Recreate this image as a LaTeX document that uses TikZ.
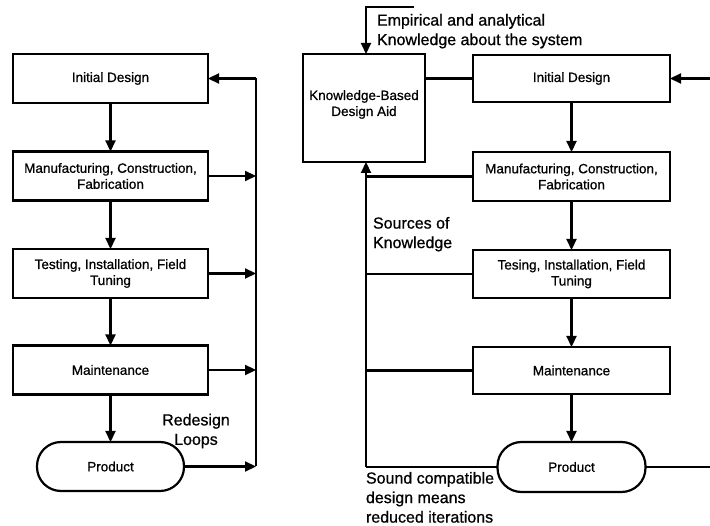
\documentclass[tikz,border=0pt]{standalone}
\usepackage{fontspec}
\setmainfont[FakeBold=0.8]{Liberation Sans}
\usetikzlibrary{arrows.meta}
\begin{document}
\begin{tikzpicture}[x=1pt,y=-1pt,
  every node/.style={inner sep=0pt,outer sep=0pt},
  boxtext/.style={font=\fontsize{13.5}{16}\selectfont},
  stepbox/.style={draw,line width=2.2pt,boxtext,align=center,minimum width=195pt,minimum height=49pt},
  prodbox/.style={draw,line width=2.2pt,boxtext,align=center,minimum width=147pt,minimum height=49pt,rounded corners=24pt},
  note/.style={font=\fontsize{16}{19.5}\selectfont},
  ln/.style={line width=2.2pt},
  arr/.style={line width=2.2pt,-{Triangle[length=11pt,width=10pt]}}]
\useasboundingbox (0,0) rectangle (710,526);
% left chain
\node[stepbox] (ID1) at (110.5,78.5) {Initial Design};
\node[stepbox] (MF1) at (110.5,176) {Manufacturing, Construction,\\Fabrication};
\node[stepbox] (TS1) at (110.5,273.5) {Testing, Installation, Field\\Tuning};
\node[stepbox] (MT1) at (110.5,370) {Maintenance};
\node[prodbox] (PR1) at (110.5,466.5) {Product};
\draw[arr] (ID1) -- (MF1);
\draw[arr] (MF1) -- (TS1);
\draw[arr] (TS1) -- (MT1);
\draw[arr] (MT1) -- (PR1);
\coordinate (LT) at (256,78.5);
\coordinate (LB) at (256,466.5);
\draw[ln] (LB) -- (LT);
\draw[arr] (LT) -- (ID1.east);
\draw[arr] (MF1.east) -- (MF1.east -| LT);
\draw[arr] (TS1.east) -- (TS1.east -| LT);
\draw[arr] (MT1.east) -- (MT1.east -| LT);
\draw[arr] (PR1.east) -- (LB);
\node[note,align=center] (RL) at (196,431) {Redesign\\Loops};
% right chain
\node[stepbox,minimum width=197pt,minimum height=47pt] (ID2) at (571.5,78.5) {Initial Design};
\node[stepbox,minimum width=197pt] (MF2) at (571.5,176.5) {Manufacturing, Construction,\\Fabrication};
\node[stepbox,minimum width=197pt,minimum height=48pt] (TS2) at (571.5,274) {Tesing, Installation, Field\\Tuning};
\node[stepbox,minimum width=197pt,minimum height=47pt] (MT2) at (571.5,370.5) {Maintenance};
\node[prodbox,minimum width=148pt,minimum height=50pt] (PR2) at (571.5,467) {Product};
\node[stepbox,minimum width=122pt,minimum height=108pt] (KB) at (364,108) {};
\node[boxtext,align=center] (KBt) at ([yshift=3.5pt]KB.center) {Knowledge-Based\\Design Aid};
\draw[arr] (ID2) -- (MF2);
\draw[arr] (MF2) -- (TS2);
\draw[arr] (TS2) -- (MT2);
\draw[arr] (MT2) -- (PR2);
\draw[ln] (KB.east |- ID2.west) -- (ID2.west);
\coordinate (RIn) at (710,78.5);
\draw[arr] (RIn) -- (ID2.east);
\coordinate (ROut) at (710,467);
\draw[ln] (PR2.east) -- (ROut);
\coordinate (E1) at (414,7);
\coordinate (E2) at (366,7);
\draw[arr] (E1) -- (E2) -- (E2 |- KB.north);
\coordinate (SB) at (366,467);
\draw[arr] (SB) -- (SB |- KB.south);
\draw[ln] (MF2.west) -- (MF2.west -| SB);
\draw[ln] (TS2.west) -- (TS2.west -| SB);
\draw[ln] (MT2.west) -- (MT2.west -| SB);
\draw[ln] (PR2.west) -- (SB);
\node[note,align=left,anchor=north west] (EMP) at (377,14) {Empirical and analytical\\Knowledge about the system};
\node[note,align=left,anchor=north west] (SRC) at (373,217) {Sources of\\Knowledge};
\node[note,align=left,anchor=north west] (SND) at (366,472) {Sound compatible\\design means\\reduced iterations};
\end{tikzpicture}
\end{document}
